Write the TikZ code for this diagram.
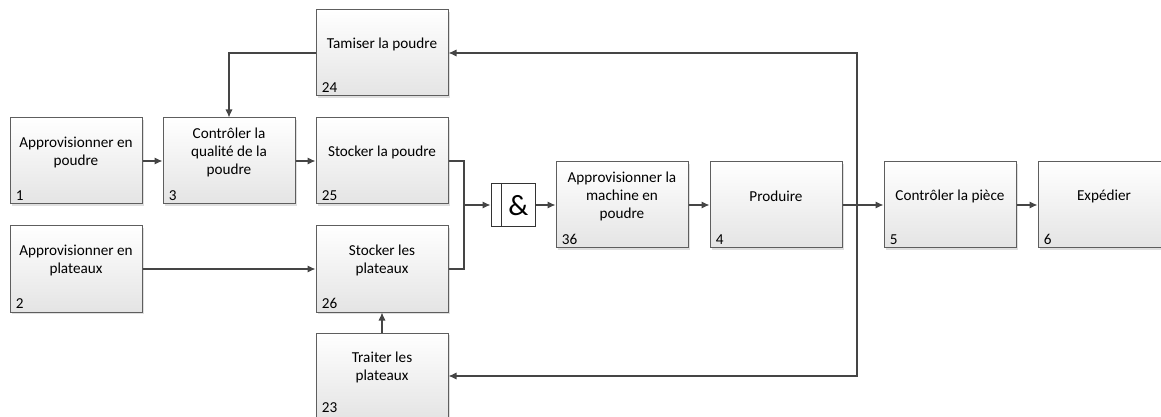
\documentclass[tikz,border=0pt]{standalone}
\usepackage{fontspec}
\setmainfont{Carlito}
\usetikzlibrary{arrows.meta}
\usetikzlibrary{shadows}
\usetikzlibrary{calc}
\definecolor{bordure}{HTML}{5E5E5E}
\definecolor{fondbas}{HTML}{E4E4E4}
\definecolor{trait}{HTML}{454545}

\tikzset{
  boite/.style={draw=bordure, line width=0.75pt, shading=axis, top color=white,
    bottom color=fondbas, minimum width=99pt, minimum height=64.5pt, inner sep=0pt,
    drop shadow={shadow xshift=1.2pt, shadow yshift=-1.2pt, fill=black!25, opacity=0.5}},
  texte/.style={align=center, yshift=6.75pt, font=\fontsize{11.4}{13.5}\selectfont},
  numero/.style={anchor=south west, inner xsep=4.6pt, inner ysep=2.6pt, font=\fontsize{11.4}{13.5}\selectfont},
  ligne/.style={draw=trait, line width=1pt},
  fleche/.style={ligne, -{Latex[length=6pt,width=5.5pt]}},
  porte/.style={draw=black!80, fill=white, line width=0.75pt, minimum width=33pt,
    minimum height=32.25pt, inner sep=0pt}
}

\begin{document}
\begin{tikzpicture}[x=0.75pt, y=-0.75pt]
  \useasboundingbox (0,0) rectangle (1161,417);

  \node[boite, label={[texte]center:{Approvisionner en\\poudre}}, label={[numero]south west:1}] (n1) at (76,161) {};
  \node[boite, label={[texte]center:{Approvisionner en\\plateaux}}, label={[numero]south west:2}] (n2) at (76,269) {};
  \node[boite, label={[texte]center:{Contr\^oler la\\qualit\'e de la\\poudre}}, label={[numero]south west:3}] (n3) at (229,161) {};
  \node[boite, label={[texte]center:{Tamiser la poudre}}, label={[numero]south west:24}] (n24) at (382,53) {};
  \node[boite, label={[texte]center:{Stocker la poudre}}, label={[numero]south west:25}] (n25) at (382,161) {};
  \node[boite, label={[texte]center:{Stocker les\\plateaux}}, label={[numero]south west:26}] (n26) at (382,269) {};
  \node[boite, label={[texte]center:{Traiter les\\plateaux}}, label={[numero, yshift=2pt]south west:23}] (n23) at (382,376) {};

  \node[porte, label={[font=\fontsize{22}{22}\selectfont, xshift=4.1pt, yshift=-0.5pt]center:\&}] (et) at (513,205) {};
  \draw[draw=black!80, line width=0.75pt] ([xshift=8.25pt]et.north west) -- ([xshift=8.25pt]et.south west);

  \node[boite, label={[texte]center:{Approvisionner la\\machine en\\poudre}}, label={[numero]south west:36}] (n36) at (622,205) {};
  \node[boite, label={[texte]center:{Produire}}, label={[numero]south west:4}] (n4) at (776,205) {};
  \node[boite, label={[texte]center:{Contr\^oler la pi\`ece}}, label={[numero]south west:5}] (n5) at (950,205) {};
  \node[boite, label={[texte]center:{Exp\'edier}}, label={[numero]south west:6}] (n6) at (1104,205) {};

  \coordinate (jonction) at (464,205);
  \coordinate (retour) at (857,205);

  \draw[fleche] (n1) -- (n3);
  \draw[fleche] (n3) -- (n25);
  \draw[fleche] (n2) -- (n26);
  \draw[fleche] (n24.west) -| (n3.north);
  \draw[fleche] (n23) -- (n26);
  \draw[ligne] (n25.east) -| (jonction) |- (n26.east);
  \draw[fleche] (jonction) -- (et.west);
  \draw[fleche] (et.east) -- (n36.west);
  \draw[fleche] (n36) -- (n4);
  \draw[fleche] (n4) -- (n5);
  \draw[fleche] (n5) -- (n6);
  \draw[fleche] (retour) |- (n24.east);
  \draw[fleche] (retour) |- (n23.east);
\end{tikzpicture}
\end{document}
